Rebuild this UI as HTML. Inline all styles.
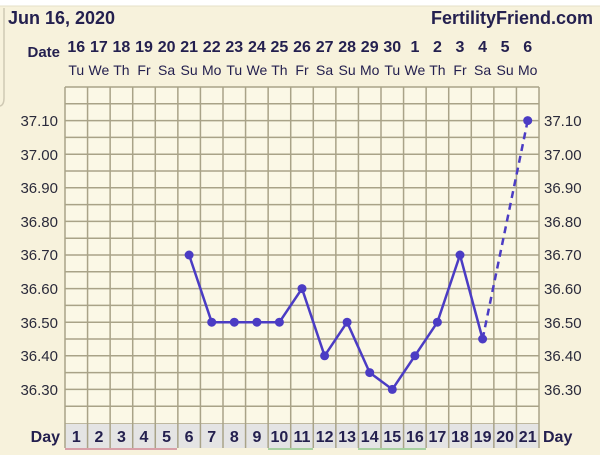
<!DOCTYPE html>
<html><head><meta charset="utf-8"><style>
body{margin:0;width:600px;height:450px;overflow:hidden;background:#f7f2dc;font-family:"Liberation Sans",sans-serif}
</style></head><body>
<svg width="600" height="450" xmlns="http://www.w3.org/2000/svg" font-family="Liberation Sans, sans-serif">
<rect width="600" height="450" fill="#f7f2dc"/>
<rect x="0" y="0" width="600" height="6" fill="#ffffff"/>
<path d="M0 6 H600" stroke="#e6e0c8"/>
<path d="M4 8 V98 Q4 105 0 106" fill="none" stroke="#cfc9b4" stroke-width="1.5"/>
<text x="8" y="24" font-size="18" font-weight="bold" fill="#24204f">Jun 16, 2020</text>
<text x="593" y="24" font-size="18" font-weight="bold" fill="#24204f" text-anchor="end">FertilityFriend.com</text>
<text x="60" y="57" font-size="15" font-weight="bold" fill="#24204f" text-anchor="end">Date</text>
<g font-size="16" font-weight="bold" fill="#24204f" text-anchor="middle">
<text x="76.3" y="52">16</text><text x="98.9" y="52">17</text><text x="121.4" y="52">18</text><text x="144" y="52">19</text><text x="166.6" y="52">20</text><text x="189.1" y="52">21</text><text x="211.7" y="52">22</text><text x="234.3" y="52">23</text><text x="256.9" y="52">24</text><text x="279.4" y="52">25</text><text x="302" y="52">26</text><text x="324.6" y="52">27</text><text x="347.1" y="52">28</text><text x="369.7" y="52">29</text><text x="392.3" y="52">30</text><text x="414.9" y="52">1</text><text x="437.4" y="52">2</text><text x="460" y="52">3</text><text x="482.6" y="52">4</text><text x="505.1" y="52">5</text><text x="527.7" y="52">6</text>
</g>
<g font-size="14" fill="#24204f" text-anchor="middle">
<text x="76.3" y="75">Tu</text><text x="98.9" y="75">We</text><text x="121.4" y="75">Th</text><text x="144" y="75">Fr</text><text x="166.6" y="75">Sa</text><text x="189.1" y="75">Su</text><text x="211.7" y="75">Mo</text><text x="234.3" y="75">Tu</text><text x="256.9" y="75">We</text><text x="279.4" y="75">Th</text><text x="302" y="75">Fr</text><text x="324.6" y="75">Sa</text><text x="347.1" y="75">Su</text><text x="369.7" y="75">Mo</text><text x="392.3" y="75">Tu</text><text x="414.9" y="75">We</text><text x="437.4" y="75">Th</text><text x="460" y="75">Fr</text><text x="482.6" y="75">Sa</text><text x="505.1" y="75">Su</text><text x="527.7" y="75">Mo</text>
</g>
<rect x="65" y="87" width="474" height="337" fill="#fbf8e6"/>
<g stroke="#a9a388" stroke-width="1.5">
<path d="M65 87V424M87.57 87V424M110.14 87V424M132.71 87V424M155.29 87V424M177.86 87V424M200.43 87V424M223 87V424M245.57 87V424M268.14 87V424M290.71 87V424M313.29 87V424M335.86 87V424M358.43 87V424M381 87V424M403.57 87V424M426.14 87V424M448.71 87V424M471.29 87V424M493.86 87V424M516.43 87V424M539 87V424"/>
<path d="M65 87H539M65 103.8H539M65 120.6H539M65 137.4H539M65 154.2H539M65 171H539M65 187.8H539M65 204.6H539M65 221.4H539M65 238.2H539M65 255H539M65 271.8H539M65 288.6H539M65 305.4H539M65 322.2H539M65 339H539M65 355.8H539M65 372.6H539M65 389.4H539M65 406.2H539M65 424H539"/>
</g>
<g font-size="15" fill="#2a2a3a">
<g text-anchor="end">
<text x="58" y="126">37.10</text><text x="58" y="160">37.00</text><text x="58" y="193">36.90</text><text x="58" y="227">36.80</text><text x="58" y="260">36.70</text><text x="58" y="294">36.60</text><text x="58" y="328">36.50</text><text x="58" y="361">36.40</text><text x="58" y="395">36.30</text>
</g>
<text x="544" y="126">37.10</text><text x="544" y="160">37.00</text><text x="544" y="193">36.90</text><text x="544" y="227">36.80</text><text x="544" y="260">36.70</text><text x="544" y="294">36.60</text><text x="544" y="328">36.50</text><text x="544" y="361">36.40</text><text x="544" y="395">36.30</text>
</g>
<rect x="65" y="424" width="474" height="24" fill="#e4e4e4"/>
<g stroke="#a9a388" stroke-width="1.5">
<path d="M65 424V448M87.57 424V448M110.14 424V448M132.71 424V448M155.29 424V448M177.86 424V448M200.43 424V448M223 424V448M245.57 424V448M268.14 424V448M290.71 424V448M313.29 424V448M335.86 424V448M358.43 424V448M381 424V448M403.57 424V448M426.14 424V448M448.71 424V448M471.29 424V448M493.86 424V448M516.43 424V448M539 424V448"/>
</g>
<rect x="65" y="448" width="112" height="2" fill="#d8a0a8"/>
<rect x="268" y="448" width="45" height="2" fill="#a8d0a0"/>
<rect x="358" y="448" width="68" height="2" fill="#a8d0a0"/>
<text x="60" y="442" font-size="16" font-weight="bold" fill="#24204f" text-anchor="end">Day</text>
<text x="543" y="442" font-size="16" font-weight="bold" fill="#24204f">Day</text>
<g font-size="16" font-weight="bold" fill="#24204f" text-anchor="middle">
<text x="76.3" y="442">1</text><text x="98.9" y="442">2</text><text x="121.4" y="442">3</text><text x="144" y="442">4</text><text x="166.6" y="442">5</text><text x="189.1" y="442">6</text><text x="211.7" y="442">7</text><text x="234.3" y="442">8</text><text x="256.9" y="442">9</text><text x="279.4" y="442">10</text><text x="302" y="442">11</text><text x="324.6" y="442">12</text><text x="347.1" y="442">13</text><text x="369.7" y="442">14</text><text x="392.3" y="442">15</text><text x="414.9" y="442">16</text><text x="437.4" y="442">17</text><text x="460" y="442">18</text><text x="482.6" y="442">19</text><text x="505.1" y="442">20</text><text x="527.7" y="442">21</text>
</g>
<g stroke="#4b3cc4" stroke-width="2.5" fill="none">
<polyline points="189.1,255 211.7,322.2 234.3,322.2 256.9,322.2 279.4,322.2 302,288.6 324.6,355.8 347.1,322.2 369.7,372.6 392.3,389.4 414.9,355.8 437.4,322.2 460,255 482.6,339"/>
<line x1="482.6" y1="339" x2="527.7" y2="120.6" stroke-dasharray="7,5"/>
</g>
<g fill="#4b3cc4">
<circle cx="189.1" cy="255" r="4.5"/><circle cx="211.7" cy="322.2" r="4.5"/><circle cx="234.3" cy="322.2" r="4.5"/><circle cx="256.9" cy="322.2" r="4.5"/><circle cx="279.4" cy="322.2" r="4.5"/><circle cx="302" cy="288.6" r="4.5"/><circle cx="324.6" cy="355.8" r="4.5"/><circle cx="347.1" cy="322.2" r="4.5"/><circle cx="369.7" cy="372.6" r="4.5"/><circle cx="392.3" cy="389.4" r="4.5"/><circle cx="414.9" cy="355.8" r="4.5"/><circle cx="437.4" cy="322.2" r="4.5"/><circle cx="460" cy="255" r="4.5"/><circle cx="482.6" cy="339" r="4.5"/><circle cx="527.7" cy="120.6" r="4.5"/>
</g>
</svg>
</body></html>
